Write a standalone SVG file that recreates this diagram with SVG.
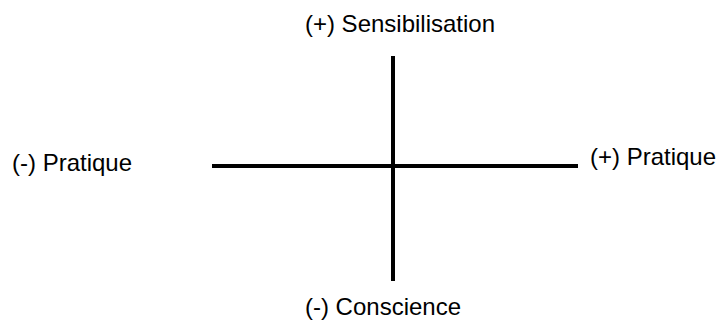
<svg xmlns="http://www.w3.org/2000/svg" width="718" height="320" viewBox="0 0 718 320">
<style>
.lbl{font-family:"Liberation Sans",Arial,sans-serif;font-size:24px;fill:#000}
.ax{stroke:#000;stroke-width:4;fill:none}
</style>
<rect width="718" height="320" fill="#fff"/>
<g id="connectors">
<line class="ax" x1="212" y1="166" x2="578" y2="166"/>
<line class="ax" x1="393" y1="56" x2="393" y2="281"/>
</g>
<g id="top"><text class="lbl" x="400" y="32" text-anchor="middle">(+) Sensibilisation</text></g>
<g id="left"><text class="lbl" x="12" y="171">(-) Pratique</text></g>
<g id="right"><text class="lbl" x="590" y="165">(+) Pratique</text></g>
<g id="bottom"><text class="lbl" x="383" y="315" text-anchor="middle">(-) Conscience</text></g>
</svg>
